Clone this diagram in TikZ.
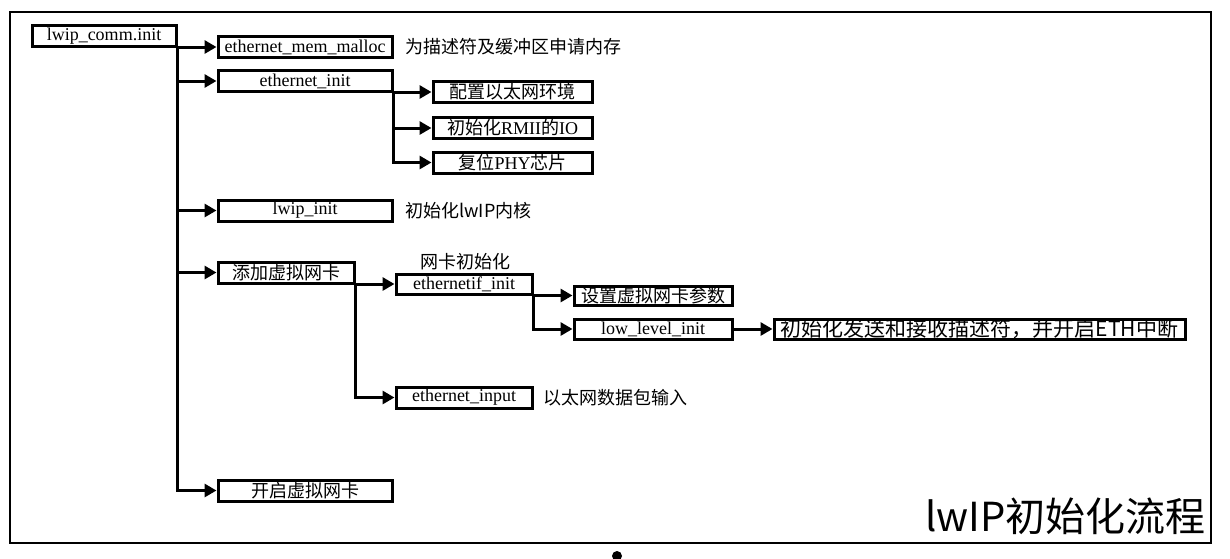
\documentclass[tikz,border=0pt]{standalone}
\usepackage{fontspec}
\setmainfont{Liberation Serif}
\newfontfamily\cjk{Noto Sans CJK SC}
\usetikzlibrary{arrows.meta}

\begin{document}
\begin{tikzpicture}[x=1pt,y=-1pt,
    fnbox/.style={draw, line width=3pt, inner sep=0pt, minimum height=21pt,
        font=\fontsize{18}{20}\selectfont},
    cnbox/.style={fnbox, font=\cjk\fontsize{18}{20}\selectfont},
    fnlink/.style={line width=3pt, -{Triangle[length=12pt,width=13pt]}},
    fnnote/.style={anchor=west, inner sep=0pt, font=\cjk\fontsize{18}{20}\selectfont}]
    \useasboundingbox (0,0) rectangle (1230,558);

    % Frame
    \draw[line width=2.6pt] (10,12) rectangle (1211,543);
    \fill (617,556) circle (5);

    % Functions
    \node[fnbox, minimum width=144pt] (comm) at (104,36) {lwip\_comm.init};
    \node[fnbox, minimum width=174pt] (malloc) at (305,47) {ethernet\_mem\_malloc};
    \node[fnbox, minimum width=174pt] (ethinit) at (305,81) {ethernet\_init};
    \node[cnbox, minimum width=159pt] (envcfg) at (512.5,92) {配置以太网环境};
    \node[fnbox, minimum width=159pt] (rmii) at (512.5,128) {{\cjk 初始化}RMII{\cjk 的}IO};
    \node[fnbox, minimum width=159pt] (phy) at (512.5,162.5) {{\cjk 复位}PHY{\cjk 芯片}};
    \node[fnbox, minimum width=174pt] (lwipinit) at (305,210.5) {lwip\_init};
    \node[cnbox, minimum width=136pt] (addnetif) at (286,272.5) {添加虚拟网卡};
    \node[fnbox, minimum width=136pt, minimum height=20pt] (ethif) at (464,284) {ethernetif\_init};
    \node[cnbox, minimum width=158pt, minimum height=19pt] (setparam) at (653,295.5) {设置虚拟网卡参数};
    \node[fnbox, minimum width=158pt, minimum height=20pt] (lowlevel) at (653,329) {low\_level\_init};
    \node[fnbox, minimum width=411pt, minimum height=20pt,
        font=\cjk\fontsize{21}{22}\selectfont] (desc) at (979.5,329) {初始化发送和接收描述符，并开启ETH中断};
    \node[fnbox, minimum width=136pt] (ethinput) at (464,397.5) {ethernet\_input};
    \node[cnbox, minimum width=174pt] (start) at (305,490.5) {开启虚拟网卡};

    % Notes
    \node[fnnote] (mallocnote) at (405,47) {为描述符及缓冲区申请内存};
    \node[fnnote] (lwipnote) at (405,210.5) {初始化lwIP内核};
    \node[fnnote] (inputnote) at (543,397.5) {以太网数据包输入};
    \node[inner sep=0pt, font=\cjk\fontsize{18}{20}\selectfont] (ethifnote) at (465,262) {网卡初始化};
    \node[anchor=base east, inner sep=0pt, font=\cjk\fontsize{40}{44}\selectfont] (title) at (1206,531) {lwIP初始化流程};

    % Links
    \draw[fnlink] (comm.south east) |- (malloc.west);
    \draw[fnlink] (comm.south east) |- (ethinit.west);
    \draw[fnlink] (comm.south east) |- (lwipinit.west);
    \draw[fnlink] (comm.south east) |- (addnetif.west);
    \draw[fnlink] (comm.south east) |- (start.west);
    \draw[fnlink] (ethinit.south east) |- (envcfg.west);
    \draw[fnlink] (ethinit.south east) |- (rmii.west);
    \draw[fnlink] (ethinit.south east) |- (phy.west);
    \draw[fnlink] (addnetif.south east) |- (ethif.west);
    \draw[fnlink] (addnetif.south east) |- (ethinput.west);
    \draw[fnlink] (ethif.south east) |- (setparam.west);
    \draw[fnlink] (ethif.south east) |- (lowlevel.west);
    \draw[fnlink] (lowlevel.east) -- (desc.west);
\end{tikzpicture}
\end{document}
